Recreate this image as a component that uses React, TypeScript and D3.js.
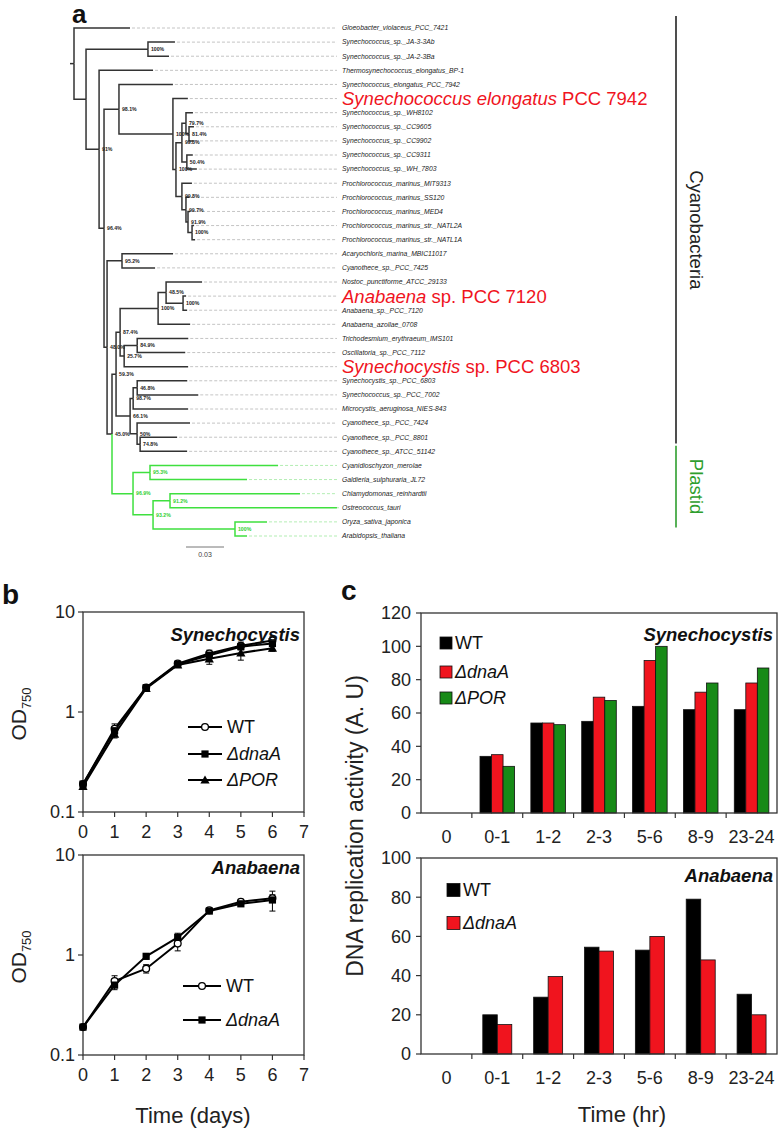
import React from 'react';
import * as d3 from 'd3';

const FONT = "'Liberation Sans', Arial, Helvetica, sans-serif";

// ---------------- Tree data (Newick with branch lengths & bootstrap) ----------------
const synMarine = "((Synechococcus_sp._WH8102:0.0055,(Synechococcus_sp._CC9605:0.0039,Synechococcus_sp._CC9902:0.0032)81.4%:0.0024)79.7%:0.0032,(Synechococcus_sp._CC9311:0.0047,Synechococcus_sp._WH_7803:0.0079)50.4%:0.0039)99.8%";
const prochloro = "(Prochlorococcus_marinus_MIT9313:0.0079,(Prochlorococcus_marinus_SS120:0.0024,(Prochlorococcus_marinus_MED4:0.0016,(Prochlorococcus_marinus_str._NATL2A:0.0016,Prochlorococcus_marinus_str._NATL1A:0.0024)100%:0.0032)91.9%:0.0016)99.7%:0.0032)99.8%";
const elongatusClade = `(Synechococcus_elongatus_PCC_7942:0.0426,(HL_7942:0.0118,(${synMarine}:0.0047,${prochloro}:0.0047)100%:0.0024)100%:0.0426)98.1%`;
const nostocales = "((Nostoc_punctiforme_ATCC_29133:0.0284,(HL_7120:0.0024,Anabaena_sp._PCC_7120:0.0032)100%:0.0134)48.5%:0.0063,Anabaena_azollae_0708:0.0253)100%";
const oscillatoriales = "((Trichodesmium_erythraeum_IMS101:0.0403,Oscillatoria_sp._PCC_7112:0.0379)84.9%:0.0103,HL_6803:0.0505)25.7%";
const chroococcales = "(((Synechocystis_sp._PCC_6803:0.0395,Synechococcus_sp._PCC_7002:0.0482)46.8%:0.0032,Microcystis_aeruginosa_NIES-843:0.0434)98.7%:0.0024,(Cyanothece_sp._PCC_7424:0.0418,(Cyanothece_sp._PCC_8801:0.0292,Cyanothece_sp._ATCC_51142:0.0371)74.8%:0.0024)50%:0.0055)66.1%";
const plastids = "((Cyanidioschyzon_merolae:0.1011,Galdieria_sulphuraria_JL72:0.0766)95.3%:0.0134,((Chlamydomonas_reinhardtii:0.1026,Ostreococcus_tauri:0.1318)91.2%:0.0134,(Oryza_sativa_japonica:0.0253,Arabidopsis_thaliana:0.0095)100%:0.0647)93.2%:0.0158)96.9%";
const acaryo = "(Acaryochloris_marina_MBIC11017:0.0403,Cyanothece_sp._PCC_7425:0.0261)95.2%";
const lowerClade = `(${acaryo}:0.0118,(((${nostocales}:0.0300,${oscillatoriales}:0.0032)87.4%:0.0032,${chroococcales}:0.0111)59.3%:0.0032,${plastids}:0.0166)45.0%:0.0039)48.0%`;
const treeNewick = `(Gloeobacter_violaceus_PCC_7421:0.0442,((Synechococcus_sp._JA-3-3Ab:0.0213,Synechococcus_sp._JA-2-3Ba:0.0166)100%:0.0489,(Thermosynechococcus_elongatus_BP-1:0.0426,(${elongatusClade}:0.0118,${lowerClade}:0.0024)96.4%:0.0039)91%:0.0103):0.0095);`;

const highlightLeaves = [
  { leaf: 'HL_7942', italic: 'Synechococcus elongatus', plain: ' PCC 7942' },
  { leaf: 'HL_7120', italic: 'Anabaena', plain: ' sp. PCC 7120' },
  { leaf: 'HL_6803', italic: 'Synechocystis', plain: ' sp. PCC 6803' },
];
const plastidLeaves = [
  'Cyanidioschyzon_merolae', 'Galdieria_sulphuraria_JL72', 'Chlamydomonas_reinhardtii',
  'Ostreococcus_tauri', 'Oryza_sativa_japonica', 'Arabidopsis_thaliana',
];
const scaleBarValue = 0.03;

// ---------------- Growth curve data (panel b) ----------------
const growthDays = [0, 1, 2, 3, 4, 5, 6];
const dayTicks = [0, 1, 2, 3, 4, 5, 6, 7];
const odTicks = [0.1, 1, 10];
const synWT = [0.19, 0.68, 1.76, 3.05, 3.85, 4.6, 5.2];
const synWTErr = [0.01, 0.08, 0.1, 0.15, 0.3, 0.4, 0.45];
const synDnaA = [0.19, 0.65, 1.75, 3.0, 3.7, 4.5, 4.85];
const synDnaAErr = [0.01, 0.06, 0.08, 0.1, 0.25, 0.3, 0.35];
const synPOR = [0.18, 0.6, 1.72, 2.95, 3.4, 3.9, 4.35];
const synPORErr = [0.01, 0.05, 0.08, 0.1, 0.4, 0.6, 0.3];
const anaWT = [0.19, 0.55, 0.73, 1.3, 2.8, 3.4, 3.7];
const anaWTErr = [0.01, 0.07, 0.07, 0.2, 0.1, 0.2, 0.3];
const anaDnaA = [0.19, 0.5, 0.97, 1.5, 2.75, 3.25, 3.55];
const anaDnaAErr = [0.01, 0.05, 0.06, 0.15, 0.1, 0.15, 0.8];

// ---------------- Replication activity data (panel c) ----------------
const timeCats = ['0', '0-1', '1-2', '2-3', '5-6', '8-9', '23-24'];
const synBarWT = [0, 34, 54, 55, 64, 62, 62];
const synBarDnaA = [0, 35, 54, 69.5, 91.5, 72.5, 78];
const synBarPOR = [0, 28, 53, 67.5, 100, 78, 87];
const anaBarWT = [0, 20, 29, 54.5, 53, 79, 30.5];
const anaBarDnaA = [0, 15, 39.5, 52.5, 60, 48, 20];

const RED = '#f0141e';
const GREEN = '#178a17';
const TREE_GREEN = '#3fe03f';

// ---------------- Newick parser ----------------
type TNode = { name: string; len: number; children: TNode[] };
function parseNewick(s: string): TNode {
  let i = 0;
  function node(): TNode {
    const n: TNode = { name: '', len: 0, children: [] };
    if (s[i] === '(') {
      i++;
      n.children.push(node());
      while (s[i] === ',') { i++; n.children.push(node()); }
      i++;
    }
    let name = '';
    while (i < s.length && !',():;'.includes(s[i])) name += s[i++];
    n.name = name.trim();
    if (s[i] === ':') {
      i++;
      let num = '';
      while (i < s.length && !',();'.includes(s[i])) num += s[i++];
      n.len = parseFloat(num);
    }
    return n;
  }
  return node();
}

function Tree() {
  const root: any = d3.hierarchy(parseNewick(treeNewick), (d: TNode) => (d.children.length ? d.children : null));
  root.eachBefore((n: any) => { n.dist = n.parent ? n.parent.dist + n.data.len : 0; });
  const leaves = root.leaves();
  const xT = d3.scaleLinear().domain([0, scaleBarValue]).range([74, 112]);
  const yT = d3.scaleLinear().domain([0, leaves.length - 1]).range([28, 536]);
  leaves.forEach((l: any, i: number) => { l.idx = i; l.yv = yT(i); });
  root.eachAfter((n: any) => {
    if (n.children) n.yv = (n.children[0].yv + n.children[n.children.length - 1].yv) / 2;
  });
  const isPlastid = (n: any) => n.leaves().every((l: any) => plastidLeaves.includes(l.data.name));
  const nodes = root.descendants();
  const labelX = 342;
  const dashEnd = 337;
  const cy = leaves.findIndex((l: any) => l.data.name === 'Gloeobacter_violaceus_PCC_7421');
  const cyEnd = leaves.findIndex((l: any) => l.data.name === 'Cyanothece_sp._ATCC_51142');
  const plStart = leaves.findIndex((l: any) => l.data.name === plastidLeaves[0]);
  const plEnd = leaves.findIndex((l: any) => l.data.name === plastidLeaves[plastidLeaves.length - 1]);
  return (
    <g fontFamily={FONT}>
      {/* root stub */}
      <line x1={xT(0) - 4} x2={xT(0)} y1={root.yv} y2={root.yv} stroke="#333" strokeWidth={1.5} />
      {nodes.filter((n: any) => n.parent).map((n: any, i: number) => {
        const p = n.parent;
        const col = isPlastid(n) ? TREE_GREEN : '#333';
        return (
          <path key={'b' + i} d={`M${xT(p.dist)},${p.yv}V${n.yv}H${xT(n.dist)}`} fill="none" stroke={col} strokeWidth={1.5} />
        );
      })}
      {leaves.map((l: any, i: number) => (
        <line key={'d' + i} x1={xT(l.dist) + 2} x2={dashEnd} y1={l.yv} y2={l.yv} stroke={isPlastid(l) ? '#9fe89f' : '#b5b5b5'} strokeWidth={0.8} strokeDasharray="3,2" />
      ))}
      {leaves.map((l: any, i: number) => {
        const hl = highlightLeaves.find((h) => h.leaf === l.data.name);
        if (hl) {
          return (
            <text key={'l' + i} x={labelX} y={l.yv} dy="0.35em" fontSize={18.5} fill={RED}>
              <tspan fontStyle="italic">{hl.italic}</tspan>
              <tspan>{hl.plain}</tspan>
            </text>
          );
        }
        return (
          <text key={'l' + i} x={labelX} y={l.yv} dy="0.35em" fontSize={6.8} fontStyle="italic" fill="#222">{l.data.name}</text>
        );
      })}
      {nodes.filter((n: any) => n.children && n.data.name).map((n: any, i: number) => (
        <text key={'s' + i} x={xT(n.dist) + 3} y={n.yv} dy="0.35em" fontSize={5.2} fontWeight="bold" fill={isPlastid(n) ? '#2fcf2f' : '#222'}>{n.data.name}</text>
      ))}
      {/* scale bar */}
      <line x1={186} x2={186 + xT(scaleBarValue) - xT(0)} y1={547} y2={547} stroke="#777" strokeWidth={1} />
      <text x={186 + (xT(scaleBarValue) - xT(0)) / 2} y={557} textAnchor="middle" fontSize={7} fill="#444">{scaleBarValue.toFixed(2)}</text>
      {/* clade brackets */}
      <line x1={676} x2={676} y1={yT(cy - 0.85)} y2={yT(cyEnd - 0.55)} stroke="#222" strokeWidth={1.6} />
      <text transform={`translate(690,${(yT(cy - 0.85) + yT(cyEnd - 0.55)) / 2}) rotate(90)`} textAnchor="middle" fontSize={18.5} fill="#222">Cyanobacteria</text>
      <line x1={676} x2={676} y1={yT(plStart - 1.4)} y2={yT(plEnd - 0.6)} stroke="#2e9e2e" strokeWidth={1.6} />
      <text transform={`translate(690,${(yT(plStart - 1.4) + yT(plEnd - 0.6)) / 2}) rotate(90)`} textAnchor="middle" fontSize={18.5} fill="#2e9e2e">Plastid</text>
    </g>
  );
}

// ---------------- Panel b ----------------
function Marker({ shape, x, y }: { shape: string; x: number; y: number }) {
  if (shape === 'circle') return <circle cx={x} cy={y} r={3.4} fill="#fff" stroke="#000" strokeWidth={1.3} />;
  if (shape === 'square') return <rect x={x - 3.6} y={y - 3.6} width={7.2} height={7.2} fill="#000" />;
  return <path d={`M${x},${y - 4.6}L${x + 4.6},${y + 3.6}L${x - 4.6},${y + 3.6}Z`} fill="#000" />;
}

type GSeries = { label: string; delta: boolean; vals: number[]; err: number[]; shape: string };

function Growth({ y0, y1, series, title, titleY, legX1, legX2, legRows, xTitle }:
  { y0: number; y1: number; series: GSeries[]; title: string; titleY: number; legX1: number; legX2: number; legRows: number[]; xTitle: boolean }) {
  const x = d3.scaleLinear().domain([0, 7]).range([83, 304]);
  const y = d3.scaleLog().domain([0.1, 10]).range([y1, y0]);
  const line = d3.line<number>().x((_, i) => x(growthDays[i])).y((v) => y(v));
  return (
    <g fontFamily={FONT}>
      <rect x={x(0)} y={y0} width={x(7) - x(0)} height={y1 - y0} fill="none" stroke="#333" strokeWidth={1.3} />
      {dayTicks.map((t) => (
        <g key={'xt' + t}>
          <line x1={x(t)} x2={x(t)} y1={y1} y2={y1 + 5} stroke="#333" strokeWidth={1.2} />
          <text x={x(t)} y={y1 + 26} textAnchor="middle" fontSize={18} fill="#222">{t}</text>
        </g>
      ))}
      {odTicks.map((t) => (
        <g key={'yt' + t}>
          <line x1={x(0) - 5} x2={x(0)} y1={y(t)} y2={y(t)} stroke="#333" strokeWidth={1.2} />
          <text x={x(0) - 8} y={y(t)} dy="0.35em" textAnchor="end" fontSize={18} fill="#222">{t}</text>
        </g>
      ))}
      <text transform={`translate(26,${(y0 + y1) / 2 + 2}) rotate(-90)`} textAnchor="middle" fontSize={21} fill="#222">
        OD<tspan fontSize={13} dy={5}>750</tspan>
      </text>
      {series.map((s, si) => (
        <g key={'e' + si}>
          {s.vals.map((v, i) => {
            const hi = y(v + s.err[i]);
            const lo = y(Math.max(0.101, v - s.err[i]));
            const cx = x(growthDays[i]);
            return (
              <g key={i}>
                <line x1={cx} x2={cx} y1={hi} y2={lo} stroke="#000" strokeWidth={1} />
                <line x1={cx - 3} x2={cx + 3} y1={hi} y2={hi} stroke="#000" strokeWidth={1} />
                <line x1={cx - 3} x2={cx + 3} y1={lo} y2={lo} stroke="#000" strokeWidth={1} />
              </g>
            );
          })}
        </g>
      ))}
      {series.map((s, si) => (
        <path key={'l' + si} d={line(s.vals) || ''} fill="none" stroke="#000" strokeWidth={2} />
      ))}
      {series.map((s, si) => (
        <g key={'m' + si}>
          {s.vals.map((v, i) => <Marker key={i} shape={s.shape} x={x(growthDays[i])} y={y(v)} />)}
        </g>
      ))}
      <text x={300} y={titleY} dy="0.35em" textAnchor="end" fontSize={18.5} fontWeight="bold" fontStyle="italic" fill="#111">{title}</text>
      {series.map((s, si) => (
        <g key={'lg' + si}>
          <line x1={legX1} x2={legX2} y1={legRows[si]} y2={legRows[si]} stroke="#000" strokeWidth={2} />
          <Marker shape={s.shape} x={(legX1 + legX2) / 2} y={legRows[si]} />
          <text x={legX2 + 5} y={legRows[si]} dy="0.35em" fontSize={18} fill="#111" fontStyle={s.delta ? 'italic' : 'normal'}>{s.label}</text>
        </g>
      ))}
      {xTitle && <text x={193} y={y1 + 68} textAnchor="middle" fontSize={22} fill="#222">Time (days)</text>}
    </g>
  );
}

// ---------------- Panel c ----------------
type BSeries = { label: string; delta: boolean; vals: number[]; color: string };

function Bars({ y0, y1, max, series, title, titleY, groupFrac, legX, legRows, legSize, xTitle }:
  { y0: number; y1: number; max: number; series: BSeries[]; title: string; titleY: number; groupFrac: number; legX: number; legRows: number[]; legSize: number; xTitle: boolean }) {
  const x = d3.scaleBand<string>().domain(timeCats).range([421, 777]);
  const y = d3.scaleLinear().domain([0, max]).range([y1, y0]);
  const bw = x.bandwidth();
  const gw = bw * groupFrac;
  const inner = d3.scaleBand<string>().domain(series.map((s) => s.label)).range([0, gw]);
  const yTicks = d3.range(0, max + 1, 20);
  return (
    <g fontFamily={FONT}>
      {series.map((s, si) => (
        <g key={'s' + si}>
          {s.vals.map((v, i) => v > 0 && (
            <rect key={i} x={(x(timeCats[i]) as number) + (bw - gw) / 2 + (inner(s.label) as number)} y={y(v)} width={inner.bandwidth()} height={y1 - y(v)} fill={s.color} stroke="#111" strokeWidth={0.8} />
          ))}
        </g>
      ))}
      <rect x={421} y={y0} width={356} height={y1 - y0} fill="none" stroke="#333" strokeWidth={1.3} />
      {timeCats.slice(1).map((c) => (
        <line key={'xt' + c} x1={x(c)} x2={x(c)} y1={y1} y2={y1 + 5} stroke="#333" strokeWidth={1.2} />
      ))}
      {timeCats.map((c) => (
        <text key={'xl' + c} x={(x(c) as number) + bw / 2} y={y1 + 24} dy="0.35em" textAnchor="middle" fontSize={18} fill="#222">{c}</text>
      ))}
      {yTicks.map((t) => (
        <g key={'yt' + t}>
          <line x1={416} x2={421} y1={y(t)} y2={y(t)} stroke="#333" strokeWidth={1.2} />
          <text x={411} y={y(t)} dy="0.35em" textAnchor="end" fontSize={18} fill="#222">{t}</text>
        </g>
      ))}
      <text x={773} y={titleY} dy="0.35em" textAnchor="end" fontSize={18.5} fontWeight="bold" fontStyle="italic" fill="#111">{title}</text>
      {series.map((s, si) => (
        <g key={'lg' + si}>
          <rect x={legX} y={legRows[si] - legSize / 2} width={legSize} height={legSize} fill={s.color} stroke="#111" strokeWidth={0.8} />
          <text x={legX + legSize + 3} y={legRows[si]} dy="0.35em" fontSize={18} fill="#111" fontStyle={s.delta ? 'italic' : 'normal'}>{s.label}</text>
        </g>
      ))}
      {xTitle && <text x={622} y={y1 + 68} textAnchor="middle" fontSize={22} fill="#222">Time (hr)</text>}
    </g>
  );
}

export default function App() {
  const synGrowth: GSeries[] = [
    { label: 'WT', delta: false, vals: synWT, err: synWTErr, shape: 'circle' },
    { label: 'ΔdnaA', delta: true, vals: synDnaA, err: synDnaAErr, shape: 'square' },
    { label: 'ΔPOR', delta: true, vals: synPOR, err: synPORErr, shape: 'triangle' },
  ];
  const anaGrowth: GSeries[] = [
    { label: 'WT', delta: false, vals: anaWT, err: anaWTErr, shape: 'circle' },
    { label: 'ΔdnaA', delta: true, vals: anaDnaA, err: anaDnaAErr, shape: 'square' },
  ];
  const synBars: BSeries[] = [
    { label: 'WT', delta: false, vals: synBarWT, color: '#000' },
    { label: 'ΔdnaA', delta: true, vals: synBarDnaA, color: RED },
    { label: 'ΔPOR', delta: true, vals: synBarPOR, color: GREEN },
  ];
  const anaBars: BSeries[] = [
    { label: 'WT', delta: false, vals: anaBarWT, color: '#000' },
    { label: 'ΔdnaA', delta: true, vals: anaBarDnaA, color: RED },
  ];
  return (
    <svg width={779} height={1130} style={{ position: 'absolute', left: 0, top: 0, background: '#fff' }}>
      <rect width={779} height={1130} fill="#fff" />
      <text x={72} y={23} fontFamily={FONT} fontSize={26} fontWeight="bold" fill="#111">a</text>
      <text x={2} y={604} fontFamily={FONT} fontSize={28} fontWeight="bold" fill="#111">b</text>
      <text x={341} y={600} fontFamily={FONT} fontSize={28} fontWeight="bold" fill="#111">c</text>
      <Tree />
      <Growth y0={612} y1={812} series={synGrowth} title="Synechocystis" titleY={635} legX1={188} legX2={222} legRows={[727, 754, 780]} xTitle={false} />
      <Growth y0={855} y1={1055} series={anaGrowth} title="Anabaena" titleY={868} legX1={183} legX2={221} legRows={[986, 1020]} xTitle={true} />
      <Bars y0={613} y1={813} max={120} series={synBars} title="Synechocystis" titleY={635} groupFrac={0.68} legX={440} legRows={[643, 672, 698]} legSize={12} xTitle={false} />
      <Bars y0={858} y1={1054} max={100} series={anaBars} title="Anabaena" titleY={876} groupFrac={0.57} legX={447} legRows={[890, 923]} legSize={13} xTitle={true} />
      <text transform="translate(363,826) rotate(-90)" textAnchor="middle" fontFamily={FONT} fontSize={23} fill="#222">DNA replication activity (A. U)</text>
    </svg>
  );
}
